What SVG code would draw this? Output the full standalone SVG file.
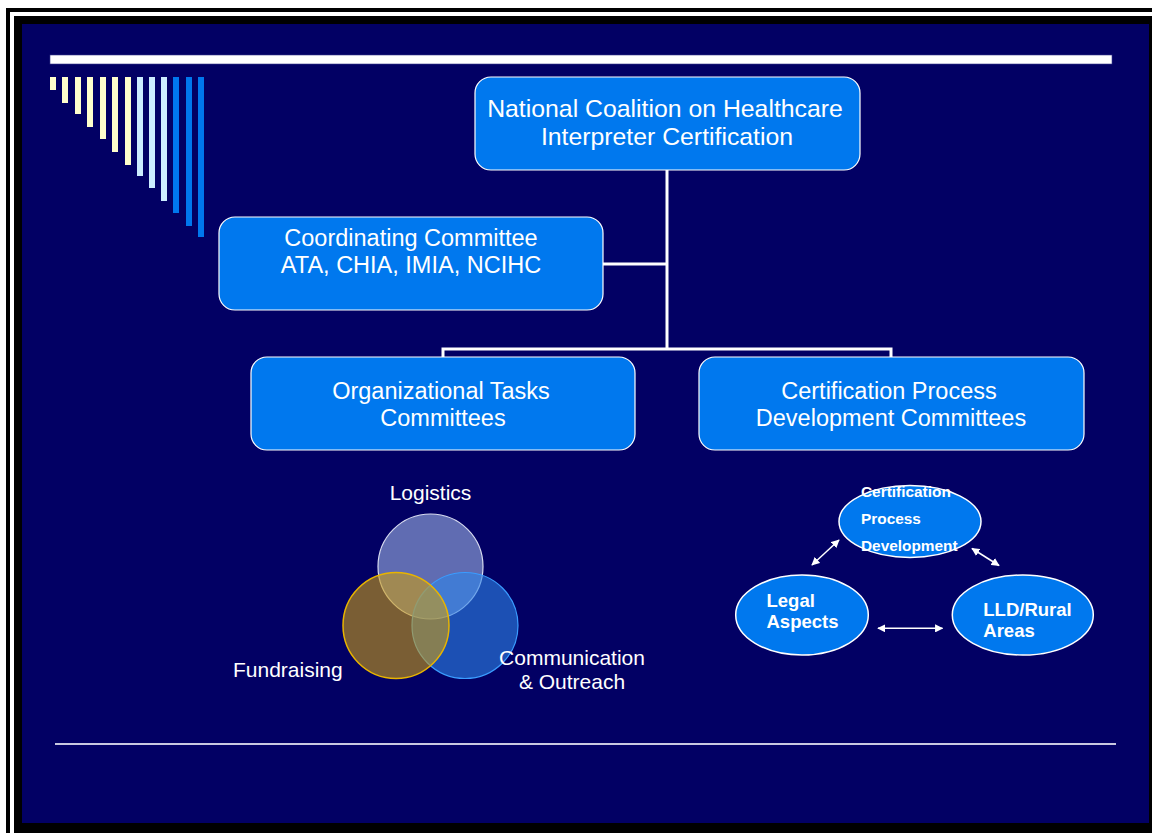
<svg xmlns="http://www.w3.org/2000/svg" width="1152" height="833" viewBox="0 0 1152 833">
  <style>
    .box { fill: #0078EE; stroke: #FFFFFF; stroke-width: 1.2; }
    .boxtxt { font-family: "Liberation Sans", Arial, sans-serif; font-size: 23.5px; fill: #FFFFFF; text-anchor: middle; }
    .oval { fill: #0078EE; stroke: #FFFFFF; stroke-width: 1.5; }
    .ovaltxt { font-family: "Liberation Sans", Arial, sans-serif; font-weight: bold; fill: #FFFFFF; }
    .label { font-family: "Liberation Sans", Arial, sans-serif; font-size: 21px; fill: #FFFFFF; }
    .conn { stroke: #FFFFFF; stroke-width: 3; fill: none; }
    .dbl { stroke: #FFFFFF; stroke-width: 1.5; fill: none; marker-start: url(#head); marker-end: url(#head); }
    .bar-y { fill: #FFFFCC; }
    .bar-l { fill: #CCECFF; }
    .bar-b { fill: #0077EE; }
  </style>
  <defs>
    <marker id="head" viewBox="0 0 10 10" refX="9" refY="5" markerWidth="5.5" markerHeight="5.5" orient="auto-start-reverse" markerUnits="strokeWidth">
      <path d="M0,0 L10,5 L0,10 Z" fill="#FFFFFF"/>
    </marker>
  </defs>

  <!-- slide frame -->
  <rect x="0" y="0" width="1152" height="833" fill="#FFFFFF"/>
  <rect x="6" y="8" width="1146" height="825" fill="#000000"/>
  <rect x="10" y="12" width="1142" height="821" fill="#FFFFFF"/>
  <rect x="14" y="16" width="1138" height="817" fill="#000000"/>
  <rect x="22" y="24" width="1127" height="799" fill="#020064"/>

  <!-- title rule and decorative bars -->
  <rect x="50" y="55" width="1062" height="9" fill="#FFFFFF" stroke="#3A3A8C" stroke-width="0.6"/>
  <g id="bars">
    <rect class="bar-y" x="50" y="77" width="6" height="13"/>
    <rect class="bar-y" x="62" y="77" width="6" height="26"/>
    <rect class="bar-y" x="75" y="77" width="6" height="37"/>
    <rect class="bar-y" x="87" y="77" width="6" height="50"/>
    <rect class="bar-y" x="100" y="77" width="6" height="62"/>
    <rect class="bar-y" x="112" y="77" width="6" height="75"/>
    <rect class="bar-y" x="125" y="77" width="6" height="88"/>
    <rect class="bar-l" x="137" y="77" width="6" height="99"/>
    <rect class="bar-l" x="149" y="77" width="6" height="111"/>
    <rect class="bar-l" x="161" y="77" width="6" height="124"/>
    <rect class="bar-b" x="173" y="77" width="6" height="136"/>
    <rect class="bar-b" x="186" y="77" width="6" height="149"/>
    <rect class="bar-b" x="198" y="77" width="6" height="160"/>
  </g>

  <!-- org chart connectors -->
  <g id="connectors">
    <path class="conn" d="M667,170 V349"/>
    <path class="conn" d="M603,264 H667"/>
    <path class="conn" d="M443,357 V349 H891 V357"/>
  </g>

  <g id="node-coalition">
    <rect class="box" x="475" y="77" width="385" height="93" rx="16"/>
    <text class="boxtxt" x="665" y="117" style="font-size:24.8px">National Coalition on Healthcare</text>
    <text class="boxtxt" x="667" y="145" style="font-size:24.8px">Interpreter Certification</text>
  </g>

  <g id="node-coordinating">
    <rect class="box" x="219" y="217" width="384" height="93" rx="16"/>
    <text class="boxtxt" x="411" y="246">Coordinating Committee</text>
    <text class="boxtxt" x="411" y="273">ATA, CHIA, IMIA, NCIHC</text>
  </g>

  <g id="node-organizational">
    <rect class="box" x="251" y="357" width="384" height="93" rx="16"/>
    <text class="boxtxt" x="441" y="399">Organizational Tasks</text>
    <text class="boxtxt" x="443" y="426">Committees</text>
  </g>

  <g id="node-certification">
    <rect class="box" x="699" y="357" width="385" height="93" rx="16"/>
    <text class="boxtxt" x="889" y="399">Certification Process</text>
    <text class="boxtxt" x="891" y="426">Development Committees</text>
  </g>

  <!-- organizational task areas -->
  <g id="venn">
    <circle cx="430.5" cy="566.5" r="52.5" fill="#A0B4E6" fill-opacity="0.6" stroke="#D8DCF0" stroke-width="1.2"/>
    <circle cx="465" cy="625.5" r="53" fill="#2F85E9" fill-opacity="0.6" stroke="#3A9CFF" stroke-width="1.2"/>
    <circle cx="396" cy="625.5" r="53" fill="#CC9D14" fill-opacity="0.6" stroke="#E8B400" stroke-width="1.5"/>
    <text class="label" x="430.5" y="500" text-anchor="middle">Logistics</text>
    <text class="label" x="233" y="677">Fundraising</text>
    <text class="label" x="572" y="665" text-anchor="middle">Communication</text>
    <text class="label" x="572" y="689" text-anchor="middle">&amp; Outreach</text>
  </g>

  <!-- certification process areas -->
  <g id="node-process">
    <ellipse class="oval" cx="910" cy="521.5" rx="71" ry="36"/>
    <text class="ovaltxt" x="861" y="497" style="font-size:15.4px">Certification</text>
    <text class="ovaltxt" x="861" y="523.5" style="font-size:15.4px">Process</text>
    <text class="ovaltxt" x="861" y="550.5" style="font-size:15.4px">Development</text>
  </g>
  <g id="node-legal">
    <ellipse class="oval" cx="802" cy="615" rx="66.3" ry="40"/>
    <text class="ovaltxt" x="766.5" y="606.5" style="font-size:18.5px">Legal</text>
    <text class="ovaltxt" x="766.5" y="628" style="font-size:18.5px">Aspects</text>
  </g>
  <g id="node-rural">
    <ellipse class="oval" cx="1022.8" cy="615" rx="70.5" ry="40"/>
    <text class="ovaltxt" x="983.3" y="616" style="font-size:18.5px">LLD/Rural</text>
    <text class="ovaltxt" x="983.3" y="637" style="font-size:18.5px">Areas</text>
  </g>
  <g id="arrows">
    <path class="dbl" d="M812,565 L839,540"/>
    <path class="dbl" d="M972,548.5 L999,565.5"/>
    <path class="dbl" d="M878,628.3 H942.5"/>
  </g>

  <!-- footer rule -->
  <rect x="55" y="743" width="1061" height="2" fill="#C8C8E0"/>
</svg>
